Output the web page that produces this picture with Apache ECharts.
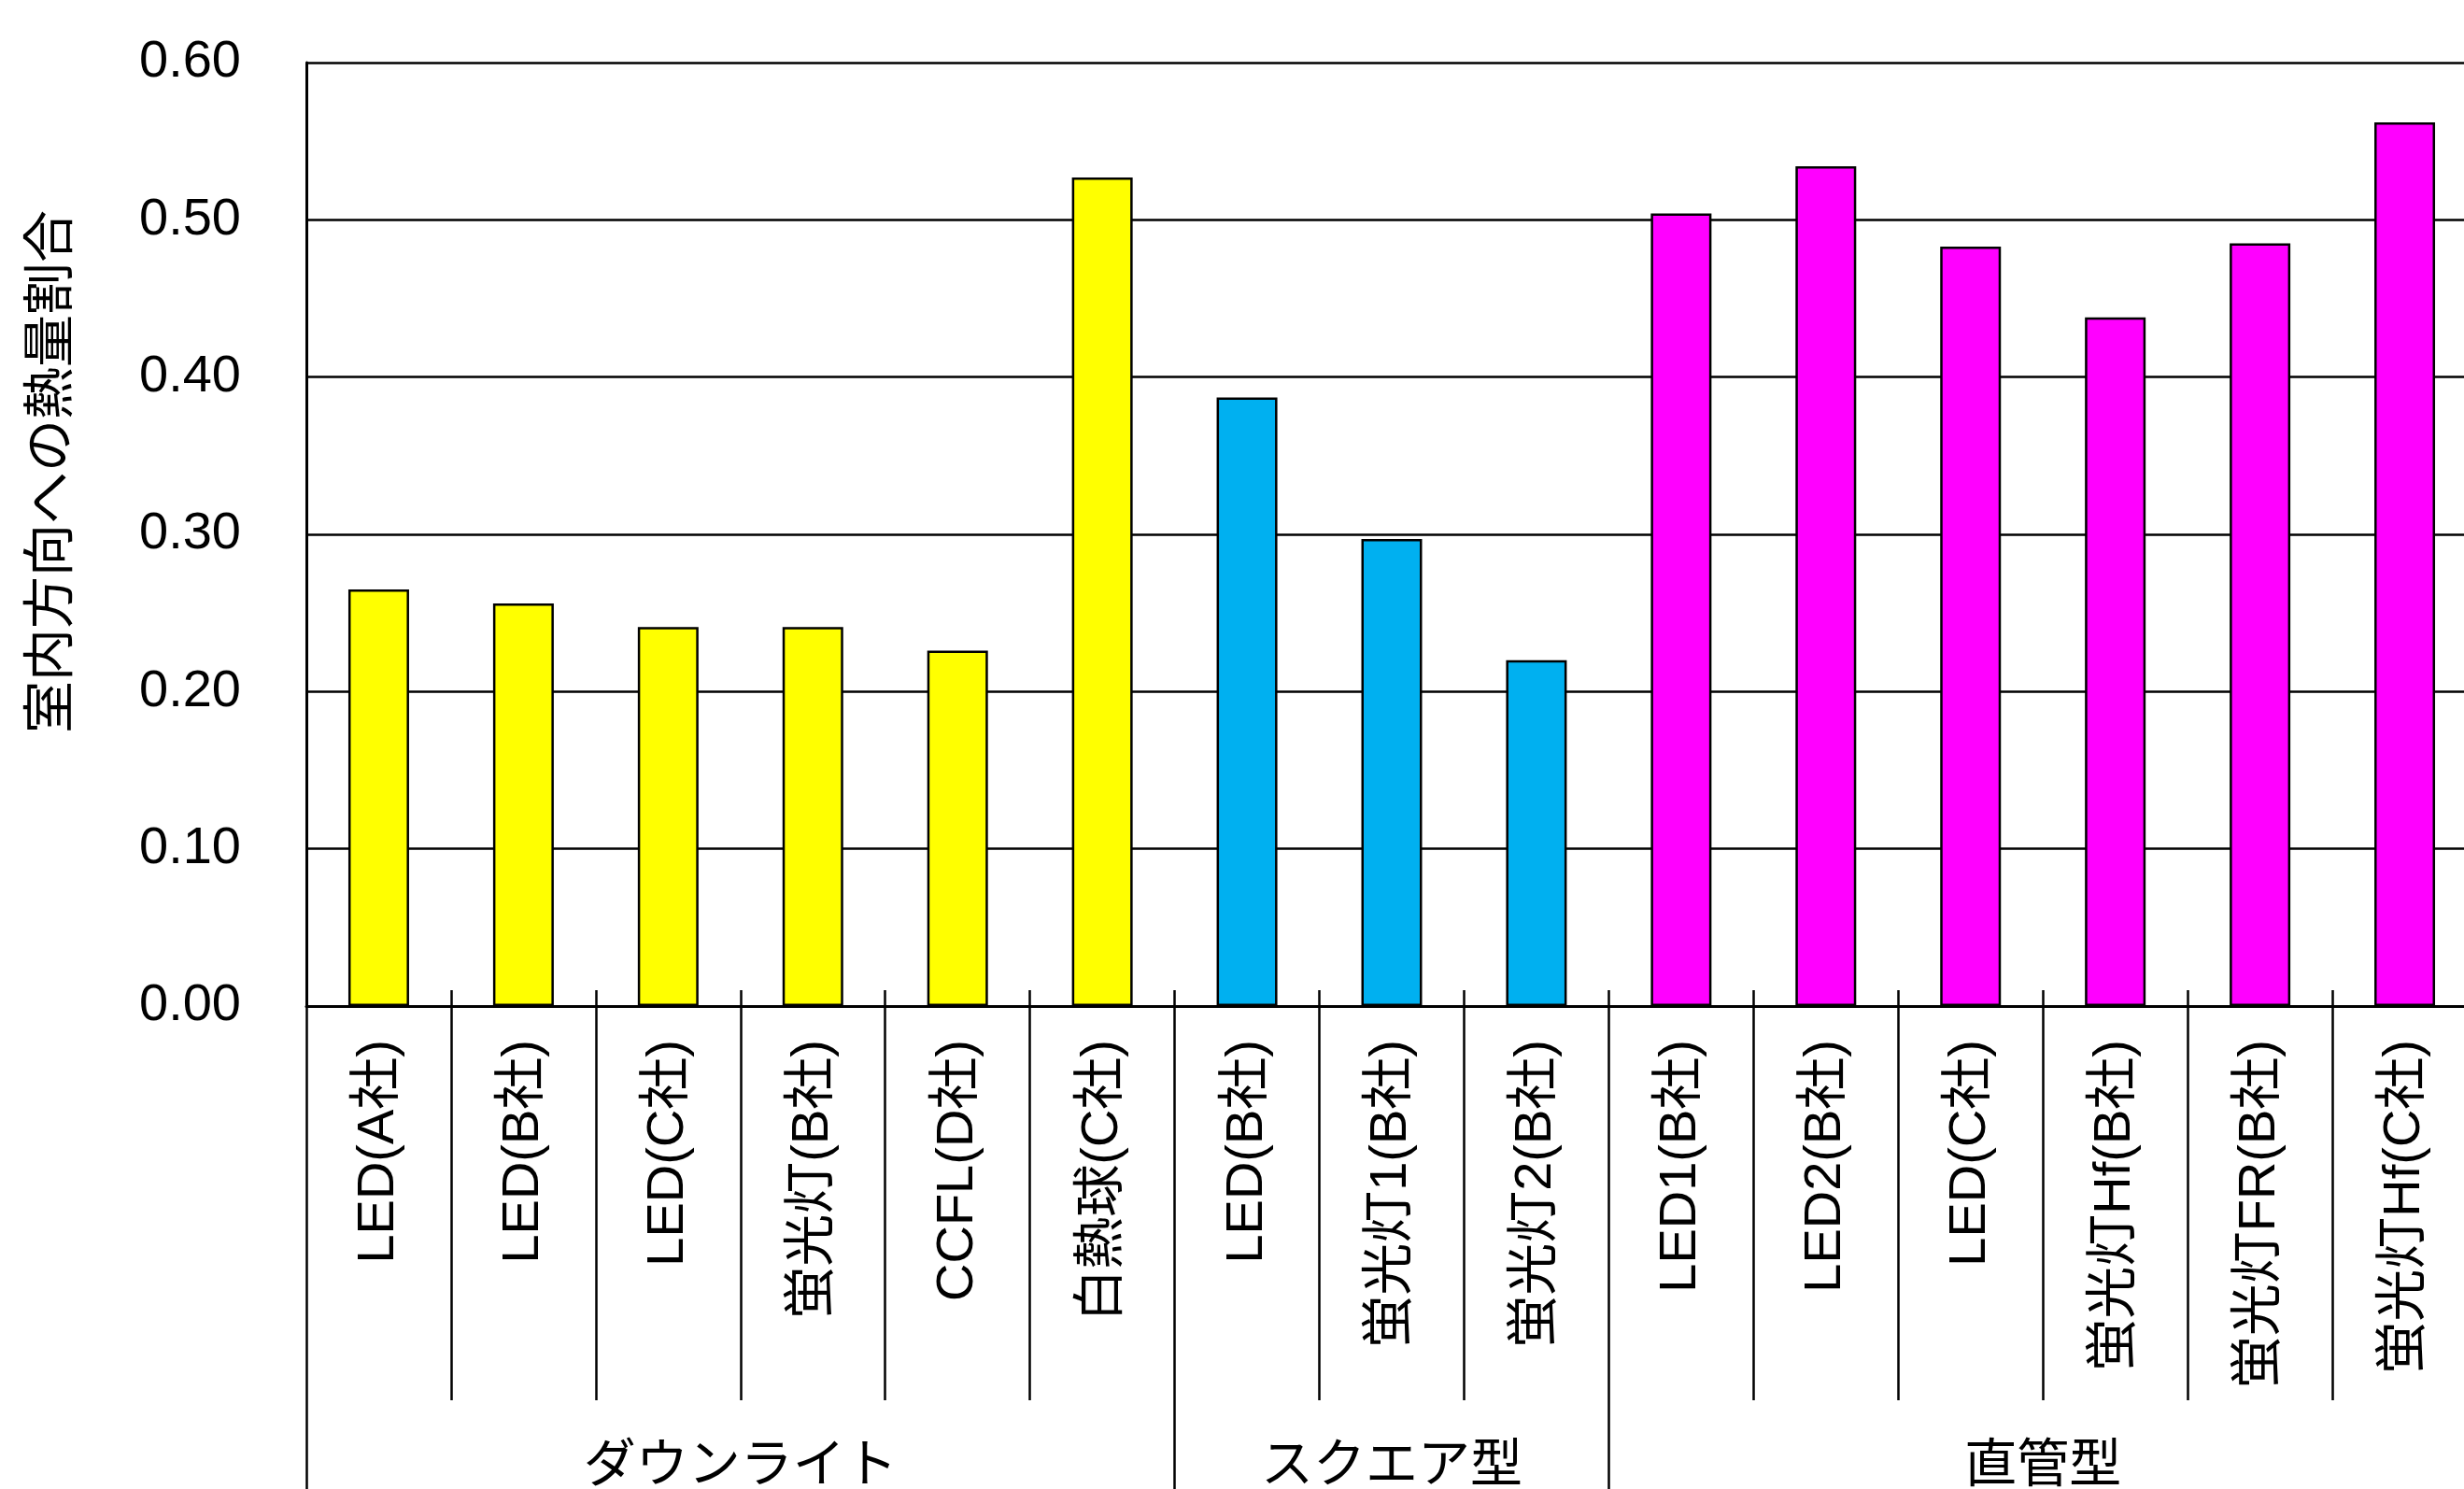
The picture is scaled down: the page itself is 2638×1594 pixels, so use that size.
<!DOCTYPE html>
<html>
<head>
<meta charset="utf-8">
<script src="https://cdn.jsdelivr.net/npm/echarts@6/dist/echarts.min.js"></script>
<style>
html,body{margin:0;padding:0;background:#fff;}
#chart{width:2638px;height:1594px;}
</style>
</head>
<body>
<div id="chart"></div>
<script>
// 分類・値
var categories = ['LED(A社)', 'LED(B社)', 'LED(C社)', '蛍光灯(B社)', 'CCFL(D社)', '白熱球(C社)',
	'LED(B社)', '蛍光灯1(B社)', '蛍光灯2(B社)',
	'LED1(B社)', 'LED2(B社)', 'LED(C社)', '蛍光灯Hf(B社)', '蛍光灯FR(B社)', '蛍光灯Hf(C社)'];
var values = [0.265, 0.256, 0.241, 0.241, 0.226, 0.527,
	0.387, 0.297, 0.220,
	0.504, 0.534, 0.483, 0.438, 0.485, 0.562];
var groupNames = ['ダウンライト', 'スクエア型', '直管型'];
var groupSizes = [6, 3, 6];
var groupColors = ['#FFFF00', '#00B0F0', '#FF00FF'];
var yTitle = '室内方向への熱量割合';

var FONT = '"Liberation Sans", Arial, "Noto Sans CJK JP", sans-serif';

// 棒データ（グループごとに色）
var barData = [];
var g = 0, cnt = 0;
for (var i = 0; i < values.length; i++) {
	if (cnt >= groupSizes[g]) { g++; cnt = 0; }
	barData.push({ value: values[i], itemStyle: { color: groupColors[g] } });
	cnt++;
}

// 半区分の軸（目盛・グループ見出し用）
var halfData = [];
for (var k = 0; k <= categories.length * 2; k++) halfData.push('');
var bounds = [0];
var start = 0;
groupNames.forEach(function(n, gi){
	halfData[start * 2 + groupSizes[gi]] = n;
	start += groupSizes[gi];
	bounds.push(start * 2);
});

function halfAxis(tickFn, len, inside){
	return {
		type: 'category',
		position: 'bottom',
		boundaryGap: false,
		data: halfData,
		axisLine: { show: false },
		axisTick: {
			interval: tickFn,
			inside: inside,
			length: len,
			lineStyle: { color: '#000', width: 2.5 }
		},
		axisLabel: { show: false }
	};
}
var evenIdx = function(idx){ return idx % 2 === 0; };

var myChart = echarts.init(document.getElementById('chart'));
var option = {
	backgroundColor: '#fff',
	animation: false,
	textStyle: { fontFamily: FONT },
	grid: {
		left: 328,
		top: 67,
		width: 2324,
		height: 1010,
		outerBoundsMode: 'none'
	},
	xAxis: [{
		type: 'category',
		position: 'bottom',
		data: categories,
		axisLine: { lineStyle: { color: '#000', width: 3 } },
		axisTick: { show: false },
		axisLabel: {
			interval: 0,
			rotate: 90,
			margin: 36,
			color: '#000',
			fontSize: 56,
			fontFamily: FONT
		}
	},
	// 区分ごとの目盛（下へ長く）
	halfAxis(evenIdx, 422, false),
	// 軸の上に出る短い目盛
	halfAxis(evenIdx, 17, true),
	{
		// グループ区切りと見出し
		type: 'category',
		position: 'bottom',
		boundaryGap: false,
		data: halfData,
		axisLine: { show: false },
		axisTick: {
			interval: function(idx){ return bounds.indexOf(idx) >= 0; },
			length: 540,
			lineStyle: { color: '#000', width: 2.5 }
		},
		axisLabel: {
			interval: function(idx, val){ return val !== ''; },
			margin: 466,
			color: '#000',
			fontSize: 56,
			fontFamily: FONT
		}
	}],
	yAxis: {
		type: 'value',
		min: 0,
		max: 0.6,
		interval: 0.1,
		axisLine: { show: true, lineStyle: { color: '#000', width: 3 } },
		axisTick: { show: false },
		splitLine: { lineStyle: { color: '#000', width: 2.5 } },
		axisLabel: {
			margin: 70,
			color: '#000',
			fontSize: 56,
			fontFamily: FONT,
			formatter: function(v){ return v.toFixed(2); }
		}
	},
	graphic: [{
		type: 'text',
		x: 57,
		y: 505,
		rotation: Math.PI / 2,
		style: {
			text: yTitle,
			fontSize: 56,
			fontFamily: FONT,
			fill: '#000',
			align: 'center',
			verticalAlign: 'middle'
		}
	}],
	series: [{
		type: 'bar',
		xAxisIndex: 0,
		yAxisIndex: 0,
		barWidth: 65,
		data: barData,
		itemStyle: { borderColor: '#000', borderWidth: 2.5 }
	}]
};
myChart.setOption(option);
</script>
</body>
</html>
